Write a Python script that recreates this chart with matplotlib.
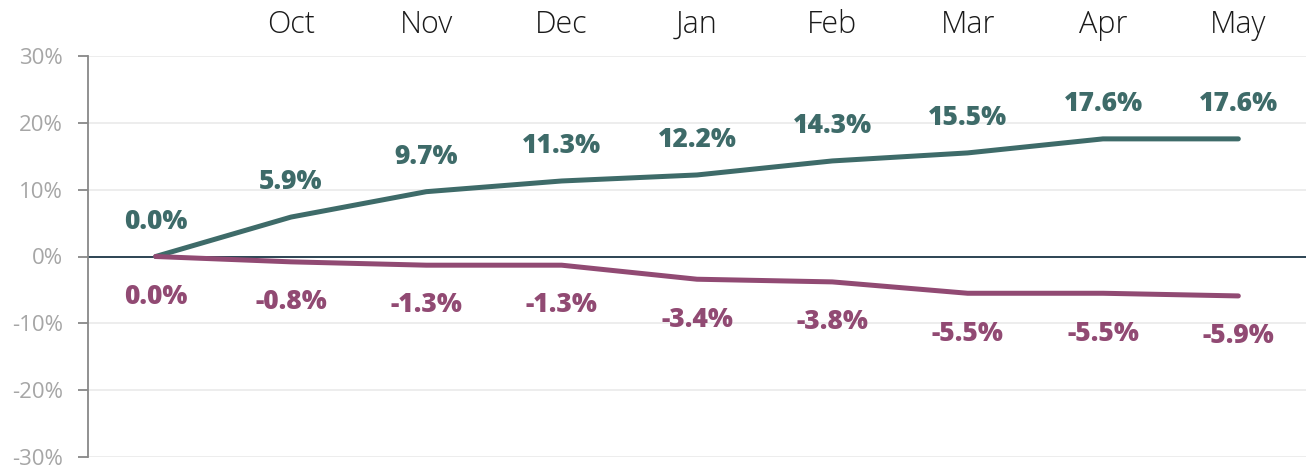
import matplotlib.pyplot as plt
from matplotlib.ticker import FuncFormatter

plt.rcParams['font.family'] = ['Open Sans', 'DejaVu Sans']

# data
months = ['', 'Oct', 'Nov', 'Dec', 'Jan', 'Feb', 'Mar', 'Apr', 'May']
up = [0.0, 5.9, 9.7, 11.3, 12.2, 14.3, 15.5, 17.6, 17.6]
down = [0.0, -0.8, -1.3, -1.3, -3.4, -3.8, -5.5, -5.5, -5.9]

c_up = '#3e6b69'
c_down = '#914a73'

fig = plt.figure(figsize=(13.06, 4.70), dpi=100)
ax = fig.add_axes([88/1306, 13/470, 1 - 88/1306, (457-56)/470])

x = range(len(months))
ax.plot(x, up, color=c_up, lw=3.6, solid_capstyle='round', zorder=3)
ax.plot(x, down, color=c_down, lw=3.6, solid_capstyle='round', zorder=3)

for i in x:
    ax.annotate('%.1f%%' % up[i], (i, up[i]), xytext=(0, 25), textcoords='offset points',
                ha='center', va='center', color=c_up, fontsize=19, fontweight='heavy')
    ax.annotate('%.1f%%' % down[i], (i, down[i]), xytext=(0, -29), textcoords='offset points',
                ha='center', va='center', color=c_down, fontsize=19, fontweight='heavy')

ax.axhline(0, color='#1d3747', lw=1.3, zorder=2)

ax.set_xlim(-0.5, len(months) - 0.5)
ax.set_ylim(-30, 30)
ax.set_yticks(range(-30, 31, 10))
ax.yaxis.set_major_formatter(FuncFormatter(lambda v, p: '%d%%' % v))
ax.grid(axis='y', color='#ececec', lw=1.3, zorder=0)
ax.set_axisbelow(True)

ax.xaxis.tick_top()
ax.set_xticks(list(x))
ax.set_xticklabels(months, fontweight='light')
ax.tick_params(axis='x', length=0, labelsize=22, colors='#1a1a1a', pad=11)
ax.tick_params(axis='y', length=7, width=1.3, color='#888888', labelsize=16,
               labelcolor='#a6a6a6', pad=11)

for s in ['top', 'right', 'bottom']:
    ax.spines[s].set_visible(False)
ax.spines['left'].set_color('#888888')
ax.spines['left'].set_linewidth(1.3)

fig.savefig('out.png', dpi=100)
